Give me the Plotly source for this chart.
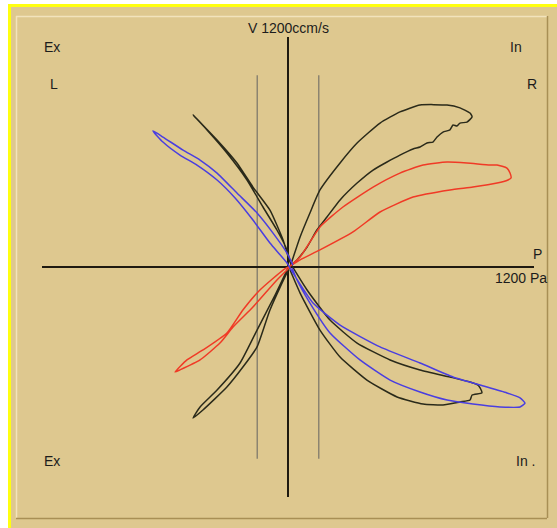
import plotly.graph_objects as go

W, H = 557, 528

# ---- data (pressure in Pa, flow in ccm/s) ----
black_r_p = [10, 59, 107, 156, 254, 337, 449, 546, 644, 776, 839, 888, 898, 873, 839, 824, 805, 790, 756, 727,
             707, 678, 644, 610, 546, 483, 415, 337, 254, 190, 141, 93, 44, 10,
             -88, -151, -220, -298, -415, -463, -429, -346, -234, -151, -63, 0]
black_r_v = [0, 157, 282, 402, 543, 647, 751, 809, 845, 845, 830, 803, 783, 756, 751, 736, 741, 715, 704, 678,
             652, 647, 626, 616, 584, 548, 506, 438, 350, 261, 193, 104, 37, 0,
             -224, -417, -522, -626, -746, -788, -730, -642, -501, -329, -146, -5]

black_l_p = [10, -5, -54, -122, -200, -298, -395, -463, -346, -249, -171, -88, -24, 10,
             93, 205, 337, 498, 644, 790, 888, 927, 937, 946, 898, 888, 839, 756, 659, 532, 385, 254, 156, 59, 10]
black_l_v = [26, 89, 193, 313, 454, 595, 715, 793, 663, 543, 417, 297, 141, 26,
             -120, -277, -397, -485, -537, -574, -600, -616, -631, -657, -668, -694, -704, -720, -715, -678, -590,
             -470, -329, -136, -16]

red_p = [10, 59, 156, 268, 415, 546, 659, 776, 873, 985, 1020, 1068, 1083, 1088, 1073, 1020, 902, 790, 610, 449,
         317, 156, 59, 10, -24, -137, -220, -298, -415, -493, -551, -527, -429, -332, -268, -171, -54, 10]
red_v = [5, 52, 209, 313, 417, 490, 532, 548, 543, 532, 532, 516, 490, 464, 454, 438, 417, 402, 365, 287,
         183, 89, 37, 5, -16, -120, -224, -344, -433, -485, -548, -537, -485, -397, -313, -209, -68, 0]

blue_p = [24, -5, -73, -151, -249, -346, -429, -512, -610, -659, -610, -527, -444, -346, -258, -171, -88, -5,
          24, 122, 254, 449, 644, 805, 937, 1068, 1132, 1156, 1132, 1034, 902, 776, 644, 498, 351, 205, 107, 44, 20]
blue_v = [10, 73, 177, 282, 386, 490, 558, 610, 678, 710, 652, 584, 532, 454, 360, 245, 125, 21,
          -31, -188, -303, -417, -501, -574, -616, -657, -683, -710, -730, -730, -715, -694, -652, -590, -485,
          -344, -188, -68, -5]

# axis extents (Pa / ccm/s)
axis_p = [-1200, 1200]
axis_v = [-1200, 1200]
limit_p = [-150, 150]
limit_v = [-1000, 1000]

TAN = "#DEC88F"
# pixel geometry of the data frame
CX, CY = 288, 267
SX = 1200 / 246.0
SY = 1200 / 230.0
xr = [-CX * SX, (W - CX) * SX]
yr = [-(H - CY) * SY, CY * SY]

fig = go.Figure()
for p, v, col in [(black_r_p, black_r_v, "#2A2A1A"), (black_l_p, black_l_v, "#2A2A1A"),
                  (red_p, red_v, "#F03A26"), (blue_p, blue_v, "#4A3EE0")]:
    fig.add_trace(go.Scatter(x=p, y=v, mode="lines",
                             line=dict(color=col, width=1.5, shape="spline", smoothing=0.5),
                             hoverinfo="skip", showlegend=False))


def px(x):
    return x / W


def py(y):
    return 1 - y / H


shapes = [
    dict(type="rect", xref="paper", yref="paper", x0=0, x1=px(8), y0=0, y1=1, fillcolor="white",
         line_width=0, layer="below"),
    dict(type="rect", xref="paper", yref="paper", x0=0, x1=1, y0=py(4), y1=1, fillcolor="white",
         line_width=0, layer="below"),
    dict(type="rect", xref="paper", yref="paper", x0=px(8), x1=px(11), y0=0, y1=py(4), fillcolor="#FFFF10",
         line_width=0, layer="below"),
    dict(type="rect", xref="paper", yref="paper", x0=px(8), x1=1, y0=py(7), y1=py(4), fillcolor="#FFFF10",
         line_width=0, layer="below"),
    dict(type="line", xref="paper", yref="paper", x0=px(16), x1=px(547), y0=py(16.5), y1=py(16.5),
         line=dict(color="#F2E3BC", width=1.5), layer="below"),
    dict(type="line", xref="paper", yref="paper", x0=px(16.5), x1=px(16.5), y0=py(16), y1=py(518),
         line=dict(color="#F2E3BC", width=1.5), layer="below"),
    dict(type="line", xref="paper", yref="paper", x0=px(16), x1=px(547), y0=py(518.5), y1=py(518.5),
         line=dict(color="#A88F55", width=1.5), layer="below"),
    dict(type="line", xref="paper", yref="paper", x0=px(547.5), x1=px(547.5), y0=py(16), y1=py(518),
         line=dict(color="#A88F55", width=1.5), layer="below"),
    # gray limit lines
    dict(type="line", x0=limit_p[0], x1=limit_p[0], y0=limit_v[0], y1=limit_v[1],
         line=dict(color="#8C8470", width=1.5), layer="below"),
    dict(type="line", x0=limit_p[1], x1=limit_p[1], y0=limit_v[0], y1=limit_v[1],
         line=dict(color="#8C8470", width=1.5), layer="below"),
    # main axes
    dict(type="line", x0=axis_p[0], x1=axis_p[1], y0=0, y1=0,
         line=dict(color="#1E1A10", width=2), layer="below"),
    dict(type="line", x0=0, x1=0, y0=axis_v[0], y1=axis_v[1],
         line=dict(color="#1E1A10", width=2), layer="below"),
]

FONT = dict(family="Liberation Sans, Arial", size=14, color="#1C1C1C")
labels = [
    ("V 1200ccm/s", 289, 28, "center"),
    ("Ex", 42, 47, "left"),
    ("In", 524, 47, "right"),
    ("L", 48, 84, "left"),
    ("R", 539, 84, "right"),
    ("P", 544, 254, "right"),
    ("1200 Pa", 549, 278, "right"),
    ("Ex", 42, 461, "left"),
    ("In .", 537, 461, "right"),
]
annotations = [dict(text=t, x=px(x), y=py(y), xref="paper", yref="paper", xanchor=a, yanchor="middle",
                    showarrow=False, font=FONT) for t, x, y, a in labels]

fig.update_layout(
    width=W, height=H, margin=dict(l=0, r=0, t=0, b=0, pad=0),
    paper_bgcolor=TAN, plot_bgcolor=TAN,
    xaxis=dict(range=xr, visible=False, fixedrange=True),
    yaxis=dict(range=yr, visible=False, fixedrange=True),
    shapes=shapes, annotations=annotations, showlegend=False,
)
fig.write_html("out.html", config={"displayModeBar": False},
               post_script="document.body.style.margin='0px';document.body.style.overflow='hidden';")
